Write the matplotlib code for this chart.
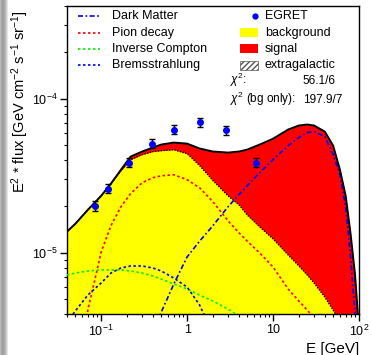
import numpy as np
import matplotlib
matplotlib.use('Agg')
import matplotlib.pyplot as plt
from matplotlib.patches import Rectangle
from matplotlib.lines import Line2D
from matplotlib.ticker import FixedLocator, FixedFormatter, LogLocator, NullFormatter

plt.rcParams['font.family'] = ['Liberation Sans', 'DejaVu Sans']
plt.rcParams['mathtext.fontset'] = 'custom'
plt.rcParams['mathtext.rm'] = 'Liberation Sans'
plt.rcParams['mathtext.it'] = 'Liberation Sans:italic'

# EGRET points
egret_E = [0.085, 0.12, 0.21, 0.39, 0.71, 1.42, 2.84, 6.3]
egret_F = [2.02e-5, 2.61e-5, 3.85e-5, 5.12e-5, 6.31e-5, 7.01e-5, 6.22e-5, 3.85e-5]
egret_rel_err = [0.07, 0.07, 0.07, 0.07, 0.07, 0.07, 0.07, 0.07]

# total (bg + signal) and background on a common energy grid
grid_E = [0.04, 0.05, 0.07, 0.1, 0.13, 0.17, 0.22, 0.3, 0.4, 0.5, 0.7, 1.0, 1.4, 2, 3,
          4, 5, 7, 10, 15, 20, 25, 30, 40, 50, 60, 70, 80, 90, 100]
total_F = [1.37e-5, 1.54e-5, 1.90e-5, 2.34e-5, 2.81e-5, 3.46e-5, 4.21e-5, 4.54e-5, 4.82e-5,
           5.04e-5, 5.19e-5, 5.11e-5, 4.75e-5, 4.54e-5, 4.47e-5, 4.54e-5, 4.67e-5, 5.04e-5,
           5.5e-5, 6.31e-5, 6.70e-5, 6.80e-5, 6.70e-5, 6.12e-5, 4.96e-5, 3.46e-5, 2.34e-5,
           1.31e-5, 7.17e-6, 3.14e-6]
bg_F = [1.37e-5, 1.54e-5, 1.90e-5, 2.34e-5, 2.81e-5, 3.41e-5, 4.02e-5, 4.34e-5, 4.54e-5,
        4.60e-5, 4.67e-5, 4.40e-5, 3.68e-5, 2.94e-5, 2.34e-5, 2.05e-5, 1.76e-5, 1.47e-5,
        1.23e-5, 9.67e-6, 8.20e-6, 7.17e-6, 6.36e-6, 5.15e-6, 4.24e-6, 3.54e-6, 2.9e-6,
        2.5e-6, 2.1e-6, 1.8e-6]

# components
pion_E = [0.065, 0.07, 0.1, 0.13, 0.17, 0.22, 0.3, 0.4, 0.5, 0.7, 1.0, 1.4, 2, 3, 4, 5,
          7, 10, 15, 20, 25, 30]
pion_F = [3.3e-6, 4.24e-6, 1.01e-5, 1.50e-5, 1.99e-5, 2.42e-5, 2.85e-5, 3.07e-5, 3.16e-5,
          3.21e-5, 2.98e-5, 2.64e-5, 2.14e-5, 1.61e-5, 1.35e-5, 1.19e-5, 9.97e-6, 8.08e-6,
          5.81e-6, 4.85e-6, 4.24e-6, 3.76e-6]

ic_E = [0.04, 0.05, 0.07, 0.1, 0.13, 0.17, 0.22, 0.3, 0.4, 0.5, 0.7, 1.0, 1.4, 2, 3, 4, 5]
ic_F = [7.17e-6, 7.38e-6, 7.61e-6, 7.73e-6, 7.73e-6, 7.73e-6, 7.61e-6, 7.38e-6, 7.06e-6,
        6.75e-6, 6.26e-6, 5.82e-6, 5.30e-6, 4.85e-6, 4.30e-6, 3.88e-6, 3.54e-6]

brems_E = [0.04, 0.05, 0.07, 0.1, 0.13, 0.17, 0.22, 0.3, 0.4, 0.5, 0.7, 1.0, 1.4, 1.6, 2]
brems_F = [3.54e-6, 4.18e-6, 5.31e-6, 6.36e-6, 7.38e-6, 7.96e-6, 8.20e-6, 8.20e-6, 7.96e-6,
           7.61e-6, 6.85e-6, 5.98e-6, 4.57e-6, 3.88e-6, 2.91e-6]

dm_E = [0.45, 0.5, 0.7, 1.0, 1.4, 2, 3, 4, 5, 7, 10, 15, 20, 25, 30, 40, 50, 60, 70, 80,
        90, 95]
dm_F = [3.54e-6, 4.11e-6, 6.26e-6, 9.39e-6, 1.19e-5, 1.50e-5, 1.99e-5, 2.38e-5, 2.72e-5,
        3.31e-5, 4.02e-5, 4.96e-5, 5.60e-5, 6.03e-5, 6.12e-5, 5.68e-5, 4.34e-5, 3.21e-5,
        1.99e-5, 9.25e-6, 3.93e-6, 2.91e-6]

x_ticks = [0.1, 1, 10, 100]
x_ticklabels = ['$10^{-1}$', '1', '10', '$10^{2}$']
y_ticks = [1e-5, 1e-4]
y_ticklabels = ['$10^{-5}$', '$10^{-4}$']

fig = plt.figure(figsize=(3.72, 3.55), dpi=100)

# grey window border on the left
strip = fig.add_axes([0, 0, 0.022, 1])
strip.imshow([[0.72, 0.66, 0.62, 0.64, 0.7, 0.78, 0.9, 1.0]], cmap='gray', vmin=0, vmax=1,
             aspect='auto', extent=[0, 1, 0, 1])
strip.axis('off')

ax = fig.add_axes([0.180, 0.1155, 0.785, 0.8675])
ax.set_xscale('log')
ax.set_yscale('log')
ax.set_xlim(0.04, 100)
ax.set_ylim(4e-6, 4e-4)

ax.fill_between(grid_E, 1e-7, bg_F, color='#ffff00', lw=0, zorder=1)
ax.fill_between(grid_E, bg_F, total_F, color='#ff0000', lw=0, zorder=1)
ax.plot(grid_E, bg_F, color='black', lw=1.0, ls=(0, (1, 1)), zorder=2)

ax.plot(pion_E, pion_F, color='#ff0000', lw=1.2, ls=(0, (1.5, 1.5)), zorder=3)
ax.plot(ic_E, ic_F, color='#00ee00', lw=1.2, ls=(0, (1.5, 1.5)), zorder=3)
ax.plot(brems_E, brems_F, color='#0000ff', lw=1.2, ls=(0, (1.5, 1.5)), zorder=3)
ax.plot(dm_E, dm_F, color='#0000ff', lw=1.2, ls=(0, (3, 1.5, 1, 1.5)), zorder=3)
ax.plot(grid_E, total_F, color='black', lw=1.4, zorder=4)

err = np.array(egret_F) * np.array(egret_rel_err)
ax.errorbar(egret_E, egret_F, yerr=err, fmt='o', color='#0000ff', ms=4, mec='#0000ff',
            ecolor='black', elinewidth=1, capsize=2.5, capthick=1, zorder=5)

# axes styling
for s in ax.spines.values():
    s.set_linewidth(1.0)
ax.xaxis.set_major_locator(FixedLocator(x_ticks))
ax.xaxis.set_major_formatter(FixedFormatter(x_ticklabels))
ax.xaxis.set_minor_locator(LogLocator(base=10, subs=np.arange(2, 10)))
ax.xaxis.set_minor_formatter(NullFormatter())
ax.yaxis.set_major_locator(FixedLocator(y_ticks))
ax.yaxis.set_major_formatter(FixedFormatter(y_ticklabels))
ax.yaxis.set_minor_locator(LogLocator(base=10, subs=np.arange(2, 10)))
ax.yaxis.set_minor_formatter(NullFormatter())
ax.tick_params(which='major', direction='out', length=5, width=1, labelsize=9, pad=2)
ax.tick_params(which='minor', direction='out', length=2.5, width=0.8)

ax.set_xlabel('E [GeV]', fontsize=11, loc='right')
ax.xaxis.set_label_coords(1.0, -0.09)
ax.set_ylabel(r'E$^{2}$ * flux [GeV cm$^{-2}$ s$^{-1}$ sr$^{-1}$]', fontsize=10.5,
              loc='top')
ax.yaxis.set_label_coords(-0.123, 0.987)

# legend, drawn by hand in axes coordinates
fs = 9
left_items = [('Dark Matter', '#0000ff', (0, (3, 1.5, 1, 1.5))),
              ('Pion decay', '#ff0000', (0, (1.5, 1.5))),
              ('Inverse Compton', '#00ee00', (0, (1.5, 1.5))),
              ('Bremsstrahlung', '#0000ff', (0, (1.5, 1.5)))]
rows = [0.968, 0.913, 0.861, 0.808]
for (lab, col, ls), yy in zip(left_items, rows):
    ax.add_line(Line2D([0.038, 0.113], [yy, yy], transform=ax.transAxes, color=col,
                       lw=1.2, ls=ls, zorder=6))
    ax.text(0.154, yy, lab, transform=ax.transAxes, fontsize=fs, va='center', zorder=6)

ax.plot([0.644], [rows[0]], 'o', color='#0000ff', ms=3.5, transform=ax.transAxes, zorder=6)
ax.text(0.678, rows[0], 'EGRET', transform=ax.transAxes, fontsize=fs, va='center')
ax.add_patch(Rectangle((0.592, rows[1] - 0.015), 0.062, 0.03, transform=ax.transAxes,
                       facecolor='#ffff00', edgecolor='none', zorder=6))
ax.text(0.678, rows[1], 'background', transform=ax.transAxes, fontsize=fs, va='center')
ax.add_patch(Rectangle((0.592, rows[2] - 0.015), 0.062, 0.03, transform=ax.transAxes,
                       facecolor='#ff0000', edgecolor='none', zorder=6))
ax.text(0.678, rows[2], 'signal', transform=ax.transAxes, fontsize=fs, va='center')
ax.add_patch(Rectangle((0.592, rows[3] - 0.015), 0.062, 0.03, transform=ax.transAxes,
                       facecolor='white', edgecolor='#555555', hatch='//////', lw=0.5,
                       zorder=6))
ax.text(0.678, rows[3], 'extragalactic', transform=ax.transAxes, fontsize=fs, va='center')

fs2 = 8.5
ax.text(0.558, 0.746, r'$\chi^{2}$:', transform=ax.transAxes, fontsize=fs2, va='baseline')
ax.text(0.808, 0.746, '56.1/6', transform=ax.transAxes, fontsize=fs2, va='baseline')
ax.text(0.558, 0.684, r'$\chi^{2}$ (bg only):', transform=ax.transAxes, fontsize=fs2,
        va='baseline')
ax.text(0.808, 0.684, '197.9/7', transform=ax.transAxes, fontsize=fs2, va='baseline')

plt.savefig('out.png', dpi=100)
